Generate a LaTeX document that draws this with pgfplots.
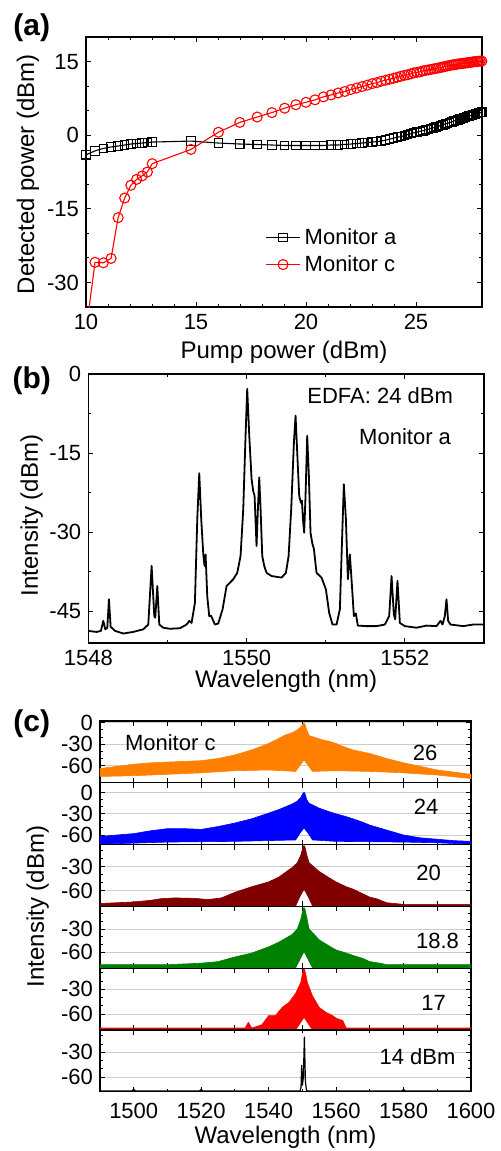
\documentclass[border=0pt]{standalone}
\usepackage{fontspec}
\setmainfont{Liberation Sans}
\usepackage{pgfplots}
\pgfplotsset{compat=1.18}
\definecolor{corange}{RGB}{255,128,0}
\definecolor{cblue}{RGB}{0,0,255}
\definecolor{cdred}{RGB}{128,0,0}
\definecolor{cgreen}{RGB}{0,128,0}
\definecolor{cred}{RGB}{255,0,0}
\newcommand{\tfont}{\fontsize{11}{13}\selectfont}
\pgfplotsset{
  every axis/.append style={
    scale only axis,
    /pgf/number format/assume math mode=true,
    /pgf/number format/1000 sep={},
    xticklabel={\tfont\pgfmathprintnumber{\tick}},
    yticklabel={\tfont\pgfmathprintnumber{\tick}},
    label style={font=\fontsize{12}{14}\selectfont},
    major tick length=2.5pt, minor tick length=1.5pt,
    axis line style={line width=0.65pt},
    tick style={line width=0.5pt, black},
    tick align=inside,
  },
  cax/.style={anchor=south west, width=185.5pt, height=30.9pt,
    xmin=1490, xmax=1600, xtick={1490,1500,...,1600},
    ytick={-60,-30,0}, minor y tick num=2,
    ymajorgrids, grid style={gray!40, line width=0.5pt}},
}
\begin{document}
\begin{tikzpicture}
\useasboundingbox (0,0) rectangle (250pt,-575.5pt);
% ---------------- (a)
\begin{axis}[at={(43pt,-153.5pt)}, anchor=south west, width=198pt, height=135pt,
  xmin=10, xmax=28, ymin=-35, ymax=20,
  xtick={10,15,20,25}, minor x tick num=4,
  ytick={-30,-15,0,15}, minor y tick num=2,
  xlabel={Pump power (dBm)}, ylabel={Detected power (dBm)},
  xlabel style={at={(axis description cs:0.5,-0.1667)}, anchor=center},
  ylabel style={at={(axis description cs:-0.1465,0.492)}, anchor=center},
  legend style={draw=none, fill=none, font=\fontsize{11}{13}\selectfont,
    at={(0.437,0.207)}, anchor=west, row sep=0pt},
  legend cell align=left]
\addplot[black, line width=0.55pt, mark=square, mark size=2.1pt, mark options={fill=white, solid}] coordinates {
(10.00,-4.0)(10.41,-3.2)(10.79,-2.7)(11.14,-2.4)(11.46,-2.2)(11.76,-2.0)(12.04,-1.8)(12.30,-1.7)(12.55,-1.6)(12.79,-1.5)(13.01,-1.4)(14.77,-1.2)(16.02,-1.6)(16.99,-1.8)(17.78,-1.9)(18.45,-2.0)(19.03,-2.1)(19.54,-2.1)(20.00,-2.1)(20.41,-2.1)(20.79,-2.1)(21.14,-2.0)(21.46,-2.0)(21.76,-1.9)(22.04,-1.8)(22.30,-1.7)(22.55,-1.6)(22.79,-1.5)(23.01,-1.4)(23.22,-1.3)(23.42,-1.2)(23.62,-1.0)(23.80,-0.8)(23.98,-0.6)(24.15,-0.4)(24.31,-0.3)(24.47,-0.1)(24.62,0.1)(24.77,0.3)(24.91,0.5)(25.05,0.6)(25.19,0.8)(25.31,0.9)(25.44,1.1)(25.56,1.2)(25.68,1.4)(25.80,1.5)(25.91,1.7)(26.02,1.8)(26.13,2.0)(26.23,2.1)(26.33,2.3)(26.43,2.4)(26.53,2.6)(26.63,2.7)(26.72,2.9)(26.81,3.0)(26.90,3.1)(26.99,3.3)(27.08,3.4)(27.16,3.5)(27.24,3.6)(27.32,3.8)(27.40,3.9)(27.48,4.0)(27.56,4.1)(27.63,4.2)(27.71,4.3)(27.78,4.4)(27.85,4.5)(27.92,4.6)(27.99,4.7)
};
\addlegendentry{Monitor a}
\addplot[red, line width=0.55pt, mark=o, mark size=2.5pt, mark options={fill=white, solid}] coordinates {
(10.00,-40)(10.41,-25.9)(10.79,-26.0)(11.14,-25.1)(11.46,-16.8)(11.76,-12.8)(12.04,-10.2)(12.30,-9.0)(12.55,-8.3)(12.79,-7.5)(13.01,-5.8)(14.77,-2.9)(16.02,0.6)(16.99,2.6)(17.78,3.7)(18.45,4.6)(19.03,5.5)(19.54,6.2)(20.00,6.7)(20.41,7.2)(20.79,7.8)(21.14,8.2)(21.46,8.6)(21.76,8.9)(22.04,9.3)(22.30,9.6)(22.55,9.9)(22.79,10.2)(23.01,10.5)(23.22,10.7)(23.42,11.0)(23.62,11.2)(23.80,11.4)(23.98,11.6)(24.15,11.8)(24.31,12.0)(24.47,12.2)(24.62,12.3)(24.77,12.5)(24.91,12.7)(25.05,12.8)(25.19,12.9)(25.31,13.1)(25.44,13.2)(25.56,13.3)(25.68,13.4)(25.80,13.5)(25.91,13.6)(26.02,13.7)(26.13,13.8)(26.23,13.9)(26.33,14.0)(26.43,14.1)(26.53,14.2)(26.63,14.3)(26.72,14.35)(26.81,14.4)(26.90,14.5)(26.99,14.55)(27.08,14.6)(27.16,14.65)(27.24,14.7)(27.32,14.75)(27.40,14.8)(27.48,14.85)(27.56,14.9)(27.63,14.95)(27.71,15.0)(27.78,15.0)(27.85,15.05)(27.92,15.1)(27.99,15.1)
};
\addlegendentry{Monitor c}
\end{axis}
% ---------------- (b)
\begin{axis}[at={(44.15pt,-321.5pt)}, anchor=south west, width=197.85pt, height=134.5pt,
  xmin=1548, xmax=1553, ymin=-51, ymax=0,
  xtick={1548,1550,1552}, minor x tick num=1,
  ytick={-45,-30,-15,0}, minor y tick num=1,
  xlabel={Wavelength (nm)}, ylabel={Intensity (dBm)},
  xlabel style={at={(axis description cs:0.5,-0.142)}, anchor=center},
  ylabel style={at={(axis description cs:-0.143,0.474)}, anchor=center}]
\addplot[black, line width=0.9pt, line join=round] coordinates {
(1548.000,-48.7)(1548.105,-48.9)(1548.160,-48.7)(1548.189,-46.8)(1548.215,-48.4)(1548.240,-48.1)(1548.261,-42.7)(1548.282,-47.9)(1548.337,-48.7)(1548.442,-49.2)(1548.568,-48.9)(1548.695,-48.4)(1548.758,-47.5)(1548.800,-36.4)(1548.834,-45.9)(1548.846,-46.2)(1548.872,-40.2)(1548.897,-47.5)(1548.947,-48.1)(1549.032,-48.3)(1549.158,-48.2)(1549.242,-47.5)(1549.276,-46.8)(1549.305,-47.2)(1549.347,-43.4)(1549.377,-27.5)(1549.402,-18.8)(1549.427,-27.5)(1549.453,-34.2)(1549.469,-36.4)(1549.482,-34.2)(1549.503,-42.1)(1549.528,-45.9)(1549.549,-45.8)(1549.562,-46.2)(1549.600,-47.5)(1549.642,-47.3)(1549.697,-44.6)(1549.747,-40.2)(1549.832,-38.9)(1549.882,-37.7)(1549.924,-34.5)(1549.958,-25.6)(1549.987,-11.7)(1550.008,-2.8)(1550.034,-11.7)(1550.063,-19.9)(1550.084,-22.2)(1550.101,-23.1)(1550.126,-32.6)(1550.143,-25.6)(1550.160,-19.6)(1550.177,-25.6)(1550.198,-34.5)(1550.223,-36.4)(1550.253,-37.7)(1550.316,-38.3)(1550.442,-38.6)(1550.497,-37.7)(1550.531,-34.5)(1550.564,-25.6)(1550.598,-13.0)(1550.619,-7.9)(1550.640,-14.9)(1550.665,-23.1)(1550.686,-24.4)(1550.699,-24.0)(1550.716,-28.2)(1550.728,-30.1)(1550.745,-23.1)(1550.766,-11.7)(1550.787,-19.3)(1550.808,-30.1)(1550.829,-32.0)(1550.851,-33.2)(1550.884,-37.7)(1550.947,-38.6)(1551.002,-40.8)(1551.044,-45.3)(1551.086,-47.5)(1551.137,-47.5)(1551.179,-44.6)(1551.208,-30.7)(1551.229,-20.9)(1551.255,-27.5)(1551.280,-38.9)(1551.305,-34.2)(1551.326,-38.9)(1551.356,-45.9)(1551.381,-45.4)(1551.406,-47.7)(1551.516,-47.8)(1551.642,-47.8)(1551.747,-47.5)(1551.802,-45.9)(1551.832,-38.3)(1551.861,-45.6)(1551.878,-46.5)(1551.907,-39.2)(1551.937,-47.2)(1552.000,-47.8)(1552.147,-48.1)(1552.274,-47.7)(1552.400,-47.8)(1552.451,-46.8)(1552.476,-47.5)(1552.505,-45.9)(1552.526,-42.7)(1552.547,-46.8)(1552.577,-47.5)(1552.737,-47.8)(1552.863,-47.5)(1552.998,-47.5)
};
\end{axis}
% ---------------- (c) sub1 orange
\begin{axis}[cax, at={(50pt,-391.4pt)}, ymin=-83.9, ymax=2.4, xticklabel=\empty]
\addplot[fill=corange, draw=corange, line width=0.3pt] coordinates {
(1490,-64)(1495,-61)(1500,-58)(1505,-56)(1510,-55)(1515,-54)(1520,-53)(1525,-50)(1530,-45)(1535,-38)(1540,-29)(1543,-22)(1545,-17)(1547,-14)(1548.5,-10)(1549.5,-6)(1550.3,-1)(1550.7,-1)(1551.3,-10)(1552,-18)(1554,-21)(1556,-24)(1558,-26)(1560,-29)(1562,-33)(1565,-38)(1568,-41)(1570,-43)(1575,-50)(1580,-56)(1585,-61)(1590,-66)(1595,-69)(1600,-72)
(1600,-78)(1590,-73)(1580,-70)(1570,-68)(1560,-67)(1553,-68)(1551.8,-60)(1550.5,-52)(1549.2,-60)(1548,-68)(1540,-66)(1530,-67)(1520,-70)(1510,-72)(1500,-74)(1490,-75)
} -- cycle;
\end{axis}
% sub2 blue
\begin{axis}[cax, at={(50pt,-422.3pt)}, ymin=-73.6, ymax=14, xticklabel=\empty]
\addplot[fill=cblue, draw=cblue, line width=0.3pt] coordinates {
(1490,-62)(1495,-60)(1500,-58)(1505,-54)(1510,-51)(1515,-51)(1520,-52)(1525,-48)(1530,-43)(1535,-37)(1540,-29)(1543,-24)(1545,-20)(1547,-16)(1548.5,-12)(1549.5,-7)(1550.3,0)(1550.7,0)(1551.3,-10)(1552,-15)(1555,-22)(1558,-27)(1560,-30)(1563,-34)(1565,-37)(1568,-42)(1570,-46)(1575,-53)(1580,-60)(1585,-64)(1590,-66)(1595,-68)(1600,-69)
(1600,-73)(1590,-71)(1580,-70)(1560,-69)(1553,-67)(1551.8,-58)(1550.5,-50)(1549.2,-58)(1548,-67)(1530,-69)(1510,-70)(1490,-73)
} -- cycle;
\end{axis}
% sub3 dark red
\begin{axis}[cax, at={(50pt,-453.2pt)}, ymin=-79.6, ymax=-2.4, xticklabel=\empty,
  ylabel={Intensity (dBm)},
  ylabel style={at={(axis description cs:-0.168,0)}, anchor=center}]
\addplot[fill=cdred, draw=cdred, line width=0.3pt] coordinates {
(1490,-76)(1500,-74)(1505,-72)(1508,-70)(1512,-69)(1518,-69.5)(1522,-71)(1526,-69)(1530,-62)(1535,-55)(1540,-49)(1543,-43)(1545,-37)(1547,-31)(1548.5,-25)(1549.5,-16)(1550.3,-4)(1550.7,-4)(1551.3,-15)(1552,-25)(1555,-36)(1558,-44)(1560,-49)(1563,-55)(1565,-58)(1568,-64)(1570,-68)(1572,-70)(1575,-75)(1580,-77)(1600,-77)
(1600,-79)(1553,-79)(1551.8,-68)(1550.5,-58)(1549.2,-68)(1548,-79)(1490,-79.5)
} -- cycle;
\end{axis}
% sub4 green
\begin{axis}[cax, at={(50pt,-484.1pt)}, ymin=-80.5, ymax=-0.9, xticklabel=\empty]
\addplot[fill=cgreen, draw=cgreen, line width=0.3pt] coordinates {
(1490,-76)(1510,-76)(1520,-74)(1525,-72)(1530,-66)(1535,-61)(1540,-53)(1543,-47)(1545,-42)(1547,-37)(1548.5,-30)(1549.5,-18)(1550.3,-3)(1550.7,-3)(1551.3,-15)(1552,-30)(1555,-44)(1558,-52)(1560,-57)(1563,-61)(1565,-64)(1568,-68)(1570,-72)(1573,-74)(1575,-76)(1600,-76)
(1600,-80)(1553,-80)(1551.8,-70)(1550.5,-59)(1549.2,-70)(1548,-80)(1490,-80)
} -- cycle;
\end{axis}
% sub5 red
\begin{axis}[cax, at={(50pt,-515pt)}, ymin=-79.4, ymax=-4.4, xticklabel=\empty]
\addplot[fill=cred, draw=cred, line width=0.3pt] coordinates {
(1490,-77)(1533,-77)(1534,-70)(1535,-77)(1538,-73)(1540,-62)(1542,-62)(1544,-52)(1546,-46)(1548,-35)(1549.5,-22)(1550.3,-6)(1550.7,-6)(1551.5,-22)(1553,-38)(1555,-52)(1557,-58)(1559,-62)(1560,-65)(1562,-68)(1563,-77)(1600,-77)
(1600,-79.4)(1553,-79.4)(1551.8,-72)(1550.5,-64)(1549.2,-72)(1548,-79.4)(1490,-79.4)
} -- cycle;
\end{axis}
% sub6 black
\begin{axis}[cax, at={(50pt,-545.9pt)}, ymin=-77.4, ymax=-3.2,
  xtick={1500,1520,...,1600}, minor x tick num=1,
  xticklabel style={yshift=-2pt},
  xlabel={Wavelength (nm)},
  xlabel style={at={(axis description cs:0.5,-0.731)}, anchor=center}]
\addplot[black, line width=0.6pt] coordinates {
(1490,-76.5)(1499.5,-76.5)(1500,-74)(1500.5,-76.5)(1519.5,-76.5)(1520,-74.5)(1520.5,-76.5)(1549.3,-76.5)(1549.6,-72)(1549.8,-45)(1550.0,-70)(1550.3,-60)(1550.6,-11)(1550.9,-65)(1551.2,-75)(1551.5,-76.5)(1579.5,-76.5)(1580,-74.5)(1580.5,-76.5)(1600,-76.5)
};
\end{axis}
% ---------------- texts
\node[font=\bfseries\fontsize{15}{17}\selectfont] at (15.85pt,-13.75pt) {(a)};
\node[font=\bfseries\fontsize{15}{17}\selectfont] at (15.85pt,-190.5pt) {(b)};
\node[font=\bfseries\fontsize{15}{17}\selectfont] at (15.85pt,-361.7pt) {(c)};
\node[font=\fontsize{11}{13}\selectfont, anchor=east] at (230pt,-198pt) {EDFA: 24 dBm};
\node[font=\fontsize{11}{13}\selectfont, anchor=east] at (229pt,-218.35pt) {Monitor a};
\node[font=\fontsize{11}{13}\selectfont, anchor=west] at (59pt,-371.5pt) {Monitor c};
\node[font=\fontsize{11}{13}\selectfont] at (212.5pt,-376.5pt) {26};
\node[font=\fontsize{11}{13}\selectfont] at (213pt,-403.35pt) {24};
\node[font=\fontsize{11}{13}\selectfont] at (214.25pt,-436.35pt) {20};
\node[font=\fontsize{11}{13}\selectfont] at (218.75pt,-470.35pt) {18.8};
\node[font=\fontsize{11}{13}\selectfont] at (216.75pt,-501.35pt) {17};
\node[font=\fontsize{11}{13}\selectfont] at (208.75pt,-528.35pt) {14 dBm};
\end{tikzpicture}
\end{document}
